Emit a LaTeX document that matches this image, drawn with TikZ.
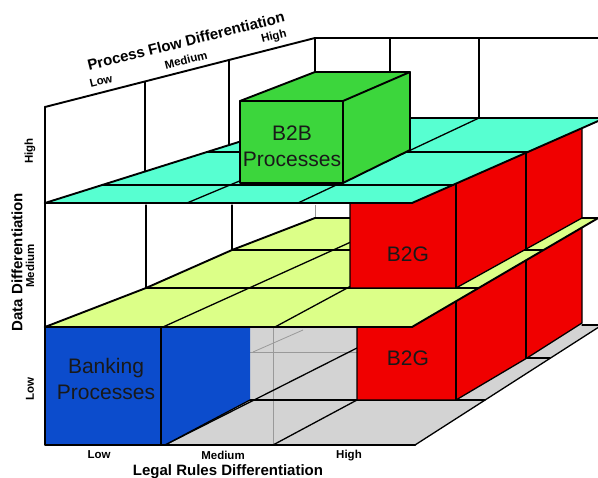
\documentclass[tikz,border=0pt]{standalone}
\usepackage{fontspec}
\setmainfont{Liberation Sans}
\definecolor{cyanL}{HTML}{57FFD1}
\definecolor{greenB}{HTML}{3CD63C}
\definecolor{redB}{HTML}{F00000}
\definecolor{blueB}{HTML}{0C4CCC}
\definecolor{limeL}{HTML}{DCFF88}
\definecolor{floorG}{HTML}{D3D3D3}
\begin{document}
\begin{tikzpicture}[x=1pt,y=-1pt,
  heavy/.style={line width=2.6pt, line cap=round, line join=round},
  edge/.style={line width=1.9pt, line cap=round, line join=round},
  thinedge/.style={line width=1.3pt, line cap=round, line join=round},
  faint/.style={line width=0.8pt, draw=black!40},
  axistitle/.style={font=\bfseries\fontsize{15}{18}\selectfont, inner sep=0pt},
  tick/.style={font=\bfseries\fontsize{11.5}{14}\selectfont, inner sep=0pt},
  boxlabel/.style={font=\fontsize{21}{25}\selectfont, inner sep=0pt, anchor=base, text=black!90}]
\useasboundingbox (0,0) rectangle (598,478);
\clip (0,0) rectangle (598,478);

% ---------- walls (white) ----------
\draw[edge] (45,107) -- (315,38) -- (602,38);
\draw[thinedge] (145,82) -- (145,172);
\draw[thinedge] (229,60) -- (229,146);
\draw[thinedge] (315,38) -- (315,72);
\draw[thinedge] (390,38) -- (390,118);
\draw[thinedge] (479,38) -- (479,118);
\draw[thinedge] (146,205) -- (146,288);
\draw[thinedge] (232,205) -- (232,250);
\draw[faint] (315,205) -- (315,218);

% ---------- floor ----------
\fill[floorG] (45,445) -- (415,445) -- (602,325) -- (45,325) -- cycle;
\draw[faint] (273,327) -- (273,445);
\draw[faint] (250,352) -- (357,352);
\draw[faint] (253,352) -- (303,330);
\draw[thinedge] (165,445) -- (357,348);
\draw[thinedge] (273,445) -- (357,400);
\draw[thinedge] (200,400) -- (485,400);
\draw[thinedge] (527,358) -- (550,358);
\draw[thinedge] (582,325) -- (600,325);
\draw[thinedge] (415,445) -- (602,325);

% ---------- lower B2G box ----------
\fill[redB] (357,327) -- (412,327) -- (582,227) -- (582,323) -- (527,358) -- (456,400) -- (357,400) -- cycle;
\draw[thinedge] (357,327) -- (357,400) -- (456,400) -- (527,358) -- (582,323) -- (582,227);
\draw[thinedge] (456,300) -- (456,400);
\draw[thinedge] (526,259) -- (526,358);

% ---------- banking box ----------
\fill[blueB] (45,327) rectangle (161,445);
\fill[blueB] (161,327) -- (250,327) -- (250,400) -- (165,445) -- (161,445) -- cycle;
\draw[thinedge] (161,327) -- (161,445);
\draw[thinedge] (165,445) -- (250,400);

% ---------- middle layer (lime) ----------
\fill[limeL] (45,327) -- (412,327) -- (598,218) -- (315,218) -- (232,250) -- (146,288) -- cycle;
\draw[thinedge] (146,288) -- (478,288);
\draw[thinedge] (232,250) -- (543,250);
\draw[thinedge] (315,218) -- (600,218);
\draw[thinedge] (163,327) -- (404,218);
\draw[thinedge] (275,327) -- (477,218);
\draw[edge] (45,327) -- (146,288) -- (232,250) -- (315,218);
\draw[edge] (412,327) -- (600,217);
\draw[heavy] (45,327) -- (412,327);

% ---------- upper B2G box ----------
\fill[redB] (350,203) -- (412,203) -- (582,128) -- (582,218) -- (456,288) -- (350,288) -- cycle;
\draw[thinedge] (350,203) -- (350,288) -- (456,288) -- (582,218) -- (582,128);
\draw[thinedge] (456,184) -- (456,288);
\draw[thinedge] (526,153) -- (526,249);

% ---------- top layer (cyan) ----------
\fill[cyanL] (45,203) -- (412,203) -- (605,118) -- (315,118) -- cycle;
\draw[thinedge] (102,185) -- (453,185);
\draw[thinedge] (207,152) -- (528,152);
\draw[thinedge] (187,203) -- (390,118);
\draw[thinedge] (298,203) -- (479,118);
\draw[edge] (45,203) -- (315,118) -- (605,118);
\draw[edge] (412,203) -- (605,118);
\draw[heavy] (45,203) -- (412,203);

% ---------- B2B box ----------
\fill[greenB] (240,101) -- (315,72) -- (410,72) -- (410,150) -- (343,183) -- (240,183) -- cycle;
\draw[edge] (240,101) rectangle (343,183);
\draw[edge] (240,101) -- (315,72) -- (410,72) -- (410,150) -- (343,183);
\draw[edge] (343,101) -- (410,72);

% ---------- front axes ----------
\draw[heavy] (45,107) -- (45,445) -- (415,445);

% ---------- labels ----------
\node[boxlabel] (b2bA) at (292,141) {B2B};
\node[boxlabel] (b2bB) at (292,167) {Processes};
\node[boxlabel] (bankA) at (106,374) {Banking};
\node[boxlabel] (bankB) at (106,400) {Processes};
\node[boxlabel] (b2gU) at (408,262) {B2G};
\node[boxlabel] (b2gL) at (408,366) {B2G};

\node[axistitle, rotate=14] (pft) at (186,41) {Process Flow Differentiation};
\node[tick, rotate=14] (pl) at (101,81) {Low};
\node[tick, rotate=14] (pm) at (186,60) {Medium};
\node[tick, rotate=14] (ph) at (274,37) {High};

\node[axistitle, rotate=90] (ddt) at (17,262) {Data Differentiation};
\node[tick, rotate=90] (dh) at (30,151) {High};
\node[tick, rotate=90] (dm) at (30,266) {Medium};
\node[tick, rotate=90] (dl) at (30,389) {Low};

\node[tick] (ll) at (99,455) {Low};
\node[tick] (lm) at (223,455) {Medium};
\node[tick] (lh) at (349,456) {High};
\node[axistitle, anchor=base] (lrt) at (228,476) {Legal Rules Differentiation};
\end{tikzpicture}
\end{document}
